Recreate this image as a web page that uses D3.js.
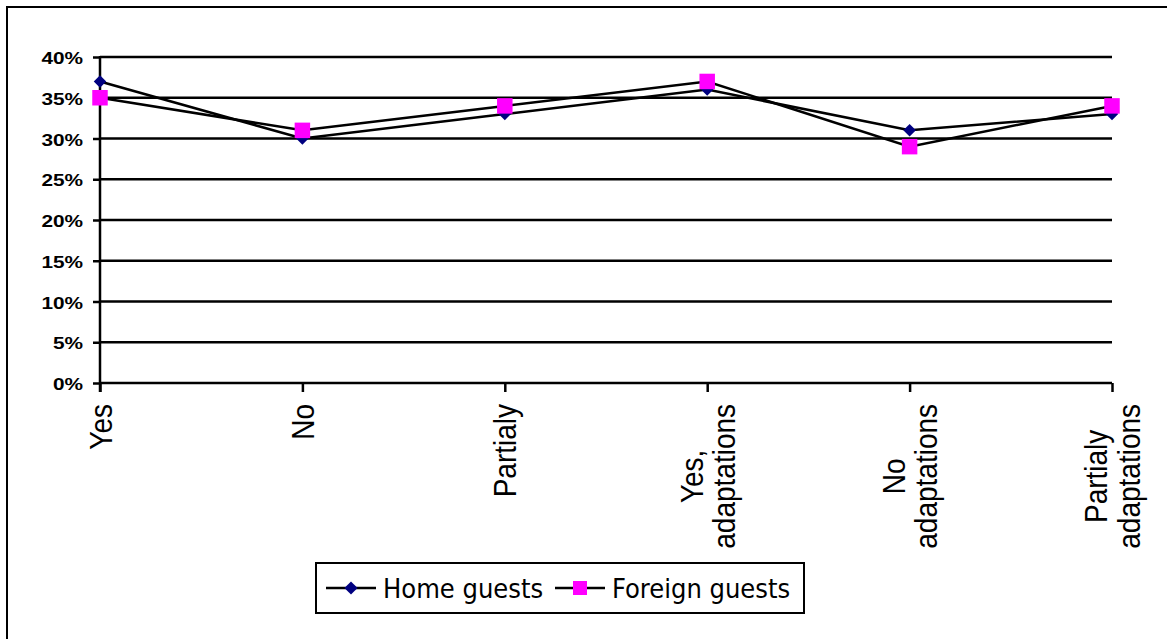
<!DOCTYPE html>
<html>
<head>
<meta charset="utf-8">
<script src="https://cdn.jsdelivr.net/npm/d3@7/dist/d3.min.js"></script>
<style>
  html, body { margin: 0; padding: 0; background: #fff; }
  svg { display: block; }
</style>
</head>
<body>
<svg id="chart" width="1167" height="639"></svg>
<script>
// Survey answers (x categories); "\n" separates label lines
const categories = ["Yes", "No", "Partialy", "Yes,\nadaptations", "No\nadaptations", "Partialy\nadaptations"];
const homeGuests = [37, 30, 33, 36, 31, 33];
const foreignGuests = [35, 31, 34, 37, 29, 34];
const yTicks = [0, 5, 10, 15, 20, 25, 30, 35, 40];
const seriesNames = ["Home guests", "Foreign guests"];

const svg = d3.select("#chart");

// Outer frame (top and left edges fall inside the canvas)
svg.append("path")
  .attr("d", "M7,639 V7 H1167")
  .attr("fill", "none").attr("stroke", "#000").attr("stroke-width", 2);

const plot = { left: 100, right: 1112, top: 57, bottom: 383 };

const x = d3.scalePoint().domain(categories).range([plot.left, plot.right]);
const y = d3.scaleLinear().domain([0, 40]).range([plot.bottom, plot.top]);

// Horizontal gridlines
svg.append("g").selectAll("line").data(yTicks).join("line")
  .attr("x1", plot.left).attr("x2", plot.right)
  .attr("y1", d => y(d)).attr("y2", d => y(d))
  .attr("stroke", "#000").attr("stroke-width", 2.5);

// Y axis
const yAxis = svg.append("g")
  .attr("transform", `translate(${plot.left},0)`)
  .call(d3.axisLeft(y).tickValues(yTicks).tickSize(7).tickPadding(0).tickFormat(d => d + "%"));
yAxis.select(".domain").attr("d", `M0,${plot.top - 1}V${plot.bottom + 9}`).attr("stroke-width", 2.5);
yAxis.selectAll(".tick line").attr("stroke-width", 2.5);
yAxis.selectAll(".tick text")
  .attr("x", null).attr("dy", null)
  .attr("font-family", "'Liberation Sans', Arial, sans-serif")
  .attr("font-weight", "bold").attr("font-size", 16)
  .attr("fill", "#000")
  .attr("text-anchor", "end")
  .attr("dominant-baseline", "central")
  .attr("transform", "translate(-17,1) scale(1.3,1)");

// X axis: ticks at each category point
const xAxis = svg.append("g")
  .attr("transform", `translate(0,${plot.bottom})`)
  .call(d3.axisBottom(x).tickSize(9).tickFormat(""));
xAxis.select(".domain").remove();
xAxis.selectAll(".tick line").attr("stroke-width", 2.5);

// Rotated category labels, lines centred on each other, block centred on the tick
const fs = 28, lineH = 28, sx = 1.15;
const labels = svg.append("g").selectAll("g").data(categories).join("g")
  .attr("transform", d => `translate(${x(d)},404) scale(${sx},1) rotate(-90)`);
labels.each(function (d) {
  const lines = d.split("\n");
  const g = d3.select(this);
  const t = g.append("text")
    .attr("font-family", "'Liberation Sans', Arial, sans-serif")
    .attr("font-size", fs).attr("fill", "#000");
  lines.forEach((ln, i) => {
    t.append("tspan").text(ln)
      .attr("y", 0.358 * fs - (lines.length - 1) * lineH / 2 + i * lineH);
  });
  const spans = t.selectAll("tspan").nodes();
  const maxW = d3.max(spans, s => s.getComputedTextLength());
  spans.forEach(s => {
    d3.select(s).attr("x", -maxW / 2).attr("text-anchor", "middle");
  });
});

// Series lines and markers
const line = d3.line().x((d, i) => x(categories[i])).y(d => y(d));
const diamond = d3.symbol().type(d3.symbolDiamond2).size(100);
const square = d3.symbol().type(d3.symbolSquare).size(240);

function drawSeries(values, sym, color) {
  svg.append("path").datum(values)
    .attr("d", line).attr("fill", "none")
    .attr("stroke", "#000").attr("stroke-width", 2.5);
  svg.append("g").selectAll("path").data(values).join("path")
    .attr("d", sym)
    .attr("transform", (d, i) => `translate(${x(categories[i])},${y(d)})`)
    .attr("fill", color);
}
drawSeries(homeGuests, diamond, "#000080");
drawSeries(foreignGuests, square, "#FF00FF");

// Legend
const legend = svg.append("g");
legend.append("rect")
  .attr("x", 316).attr("y", 563).attr("width", 488).attr("height", 50)
  .attr("fill", "#fff").attr("stroke", "#000").attr("stroke-width", 2);
const legendItems = [
  { name: seriesNames[0], x0: 326, tx: 383, sym: d3.symbol().type(d3.symbolDiamond2).size(110), color: "#000080" },
  { name: seriesNames[1], x0: 555, tx: 612, sym: d3.symbol().type(d3.symbolSquare).size(196), color: "#FF00FF" }
];
legendItems.forEach(it => {
  legend.append("line")
    .attr("x1", it.x0).attr("x2", it.x0 + 50)
    .attr("y1", 588).attr("y2", 588)
    .attr("stroke", "#000").attr("stroke-width", 2.5);
  legend.append("path")
    .attr("d", it.sym())
    .attr("transform", `translate(${it.x0 + 25},588)`)
    .attr("fill", it.color);
  legend.append("text")
    .attr("x", it.tx).attr("y", 598)
    .attr("font-family", "'DejaVu Sans Condensed', 'DejaVu Sans', sans-serif")
    .attr("font-stretch", "condensed")
    .attr("font-size", 27).attr("fill", "#000")
    .text(it.name);
});
</script>
</body>
</html>
